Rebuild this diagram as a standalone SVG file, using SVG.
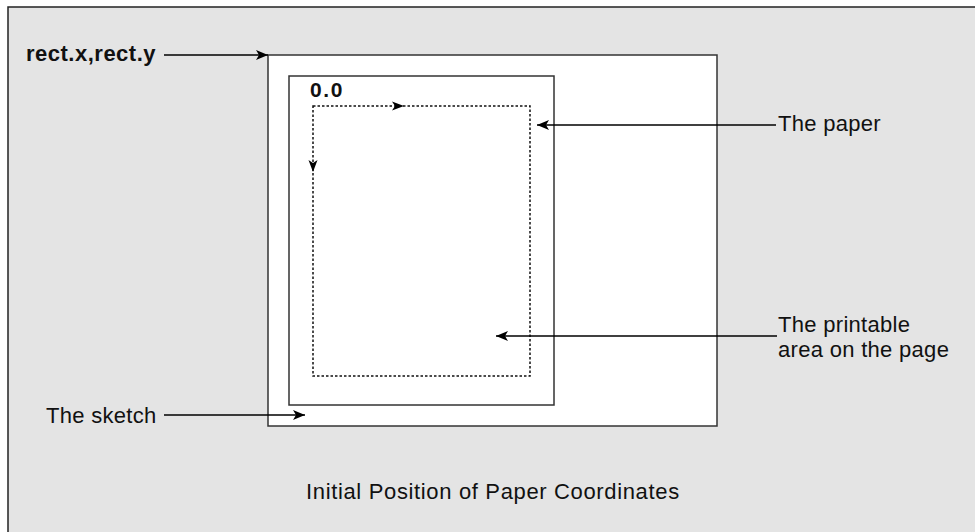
<svg xmlns="http://www.w3.org/2000/svg" width="975" height="532" viewBox="0 0 975 532">
<defs>
<marker id="ah" viewBox="0 0 12 10" refX="12" refY="5" markerWidth="12" markerHeight="10" markerUnits="userSpaceOnUse" orient="auto">
<path d="M0,0 L12,5 L0,10 L3,5 Z" fill="#000"/>
</marker>
<style>
.t{font-family:"Liberation Sans",Arial,sans-serif;font-size:22px;fill:#111;letter-spacing:0.3px}
.b{font-weight:bold;letter-spacing:0.5px}
.z{font-size:21px;letter-spacing:1.6px}
.box{fill:#fff;stroke:#333;stroke-width:1.5}
.dot{fill:none;stroke:#111;stroke-width:1.5;stroke-dasharray:2.5,2}
.ln{fill:none;stroke:#000;stroke-width:1.5}
</style>
</defs>
<rect x="8" y="7" width="975" height="540" fill="#e4e4e4" stroke="#222" stroke-width="1.5"/>
<g id="sketch"><rect class="box" x="268" y="55" width="449" height="371"/></g>
<g id="paper"><rect class="box" x="289" y="76" width="265" height="329"/></g>
<g id="printable">
<rect class="dot" x="313" y="106" width="217" height="270"/>
<text class="t b z" x="310" y="97">0.0</text>
</g>
<g id="labels">
<text class="t b" x="26" y="61">rect.x,rect.y</text>
<text class="t" x="778" y="131">The paper</text>
<text class="t" x="778" y="332">The printable</text>
<text class="t" x="778" y="357">area on the page</text>
<text class="t" x="46" y="423">The sketch</text>
<text class="t" x="306" y="499" style="letter-spacing:0.65px">Initial Position of Paper Coordinates</text>
</g>
<g id="connectors">
<path class="ln" d="M164,55 H268" marker-end="url(#ah)"/>
<path class="ln" d="M776,125 H537" marker-end="url(#ah)"/>
<path class="ln" d="M777,336 H496" marker-end="url(#ah)"/>
<path class="ln" d="M164,415 H305" marker-end="url(#ah)"/>
<path d="M392,101.5 L404,106 L392,110.5 L395,106 Z" fill="#000"/>
<path d="M308.5,160 L313,172 L317.5,160 L313,163 Z" fill="#000"/>
</g>
</svg>
